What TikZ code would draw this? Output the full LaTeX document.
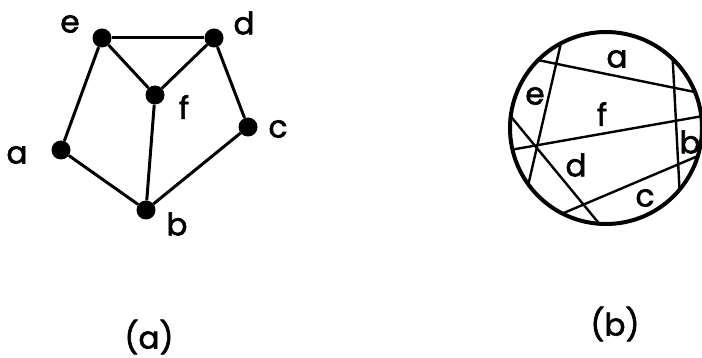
\documentclass[tikz,border=0pt]{standalone}
\usepackage{fontspec}
\setmainfont{Poppins}
\newfontfamily\lblfont{Poppins}[FakeBold=2]
\begin{document}
\begin{tikzpicture}[x=1pt,y=-1pt,
  vert/.style={circle,fill=black,inner sep=0pt,minimum size=19pt},
  edge/.style={line width=3pt},
  lbl/.style={font=\fontsize{31}{31}\lblfont,inner sep=0pt},
  chord/.style={line width=2.4pt}]
\useasboundingbox[fill=white] (0,0) rectangle (702,358);
% (a) graph
\node[vert] (e) at (102,38) {};
\node[vert] (d) at (214,38) {};
\node[vert] (f) at (155,95) {};
\node[vert] (c) at (248,127) {};
\node[vert] (a) at (61,150) {};
\node[vert] (b) at (146,210) {};
\draw[edge] (e) -- (d);
\draw[edge] (e) -- (f);
\draw[edge] (d) -- (f);
\draw[edge] (e) -- (a);
\draw[edge] (d) -- (c);
\draw[edge] (f) -- (b);
\draw[edge] (a) -- (b);
\draw[edge] (c) -- (b);
\node[lbl] (le) at (70,24) {e};
\node[lbl] (ld) at (244,23) {d};
\node[lbl] (lf) at (184,107) {f};
\node[lbl] (lc) at (278,129) {c};
\node[lbl] (la) at (17,155) {a};
\node[lbl] (lb) at (177,224) {b};
\node[lbl] (capa) at (149,337) {(a)};
% (b) circle
\node[circle,draw,line width=4pt,minimum size=192pt,inner sep=0pt,outer sep=0pt] (C) at (606,128) {};
\draw[chord] (C.118.5) -- (C.216);
\draw[chord] (C.135.9) -- (C.22.5);
\draw[chord] (C.46.3) -- (C.-40);
\draw[chord] (C.193.6) -- (C.7.7);
\draw[chord] (C.173.3) -- (C.266.3);
\draw[chord] (C.243) -- (C.-17.7);
\node[lbl] (ra) at (617,59) {a};
\node[lbl] (re) at (535,96) {e};
\node[lbl] (rf) at (602,114) {f};
\node[lbl] (rb) at (690,142) {b};
\node[lbl] (rd) at (576,165) {d};
\node[lbl] (rc) at (645,198) {c};
\node[lbl] (capb) at (615,324) {(b)};
\end{tikzpicture}
\end{document}
